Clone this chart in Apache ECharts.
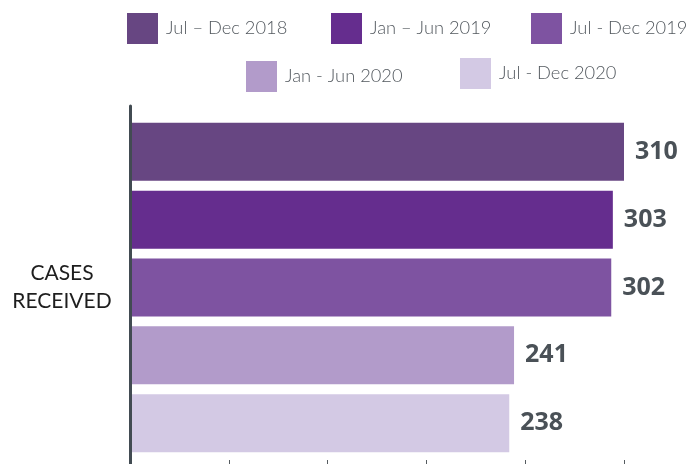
<!DOCTYPE html>
<html>
<head>
<meta charset="utf-8">
<style>
  html, body { margin: 0; padding: 0; background: #ffffff; }
  #chart { width: 691px; height: 464px; }
</style>
<script src="https://cdn.jsdelivr.net/npm/echarts@6/dist/echarts.min.js"></script>
</head>
<body>
<div id="chart"></div>
<script>
// Cases received per half-year reporting period
const categories = ['CASES\nRECEIVED'];
const periods = ['Jul – Dec 2018', 'Jan – Jun 2019', 'Jul - Dec 2019', 'Jan - Jun 2020', 'Jul - Dec 2020'];
const casesReceived = [310, 303, 302, 241, 238];
const periodColors = ['#674682', '#652d8e', '#7e53a1', '#b29bca', '#d3c9e4'];

// Value axis range and tick step
const axisMin = 0;
const axisMax = 310;
const axisStep = 62;

// Legend placement: one legend per period, two rows
const legendSlots = [
  { left: 127, top: 13 },
  { left: 331, top: 13 },
  { left: 531, top: 13 },
  { left: 246, top: 61 },
  { left: 460, top: 58 }
];

const chart = echarts.init(document.getElementById('chart'), null, { renderer: 'canvas' });

const legends = periods.map((name, i) => ({
  show: true,
  data: [name],
  left: legendSlots[i].left,
  top: legendSlots[i].top,
  padding: 0,
  orient: 'horizontal',
  icon: 'rect',
  itemWidth: 31,
  itemHeight: 31,
  selectedMode: false,
  textStyle: {
    fontFamily: 'Lato',
    fontWeight: 300,
    fontSize: 18.3,
    color: '#52585e',
    padding: [0, 0, 0, 3]
  }
}));

const series = periods.map((name, i) => ({
  name: name,
  type: 'bar',
  data: [casesReceived[i]],
  barWidth: 58,
  barGap: '17%',
  itemStyle: { color: periodColors[i] },
  label: {
    show: true,
    position: 'right',
    distance: 11,
    fontFamily: 'Open Sans',
    fontWeight: 700,
    fontSize: 25,
    color: '#4a5157'
  }
}));

chart.setOption({
  animation: false,
  backgroundColor: '#ffffff',
  legend: legends,
  grid: {
    left: 130, width: 494, top: 106, height: 363,
    containLabel: false,
    outerBoundsMode: 'none'
  },
  xAxis: {
    type: 'value',
    min: axisMin,
    max: axisMax,
    interval: axisStep,
    axisLine: { show: false },
    axisTick: { show: true, inside: true, length: 9, lineStyle: { color: '#555b60', width: 1 } },
    axisLabel: { show: false },
    splitLine: { show: false }
  },
  yAxis: {
    type: 'category',
    data: categories,
    inverse: true,
    z: 10,
    axisLine: { show: true, lineStyle: { color: '#424b52', width: 3 } },
    axisTick: { show: false },
    axisLabel: {
      margin: 68,
      align: 'center',
      fontFamily: 'Lato',
      fontSize: 21,
      lineHeight: 28,
      color: '#1e1e1e'
    }
  },
  series: series
});
</script>
</body>
</html>
